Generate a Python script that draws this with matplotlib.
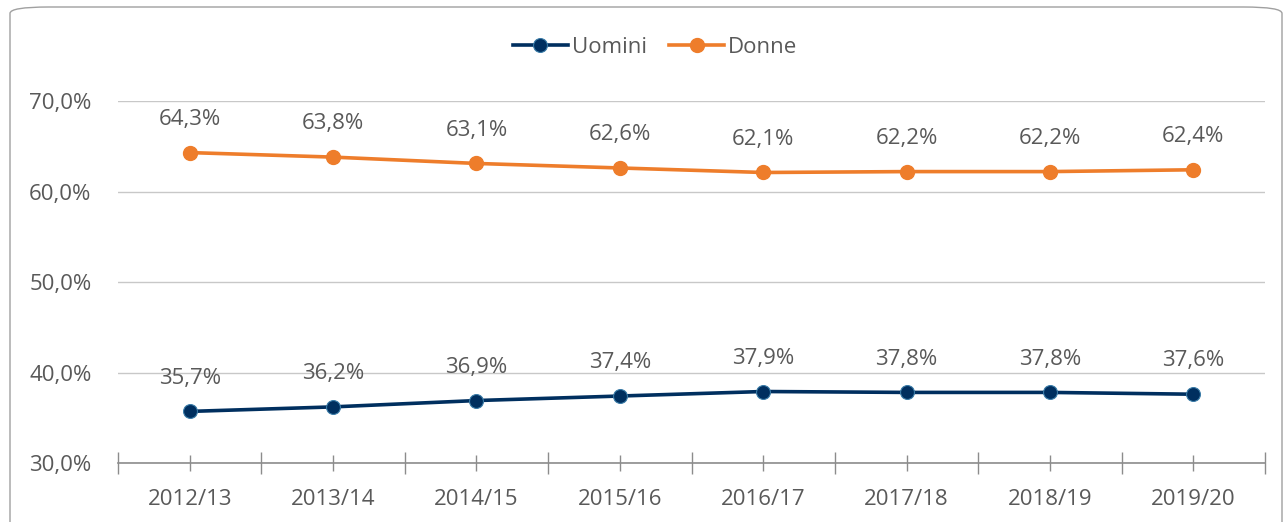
import numpy as np
import matplotlib.pyplot as plt
from matplotlib.patches import FancyBboxPatch

plt.rcParams['font.family'] = ['Open Sans', 'DejaVu Sans']

# Data
years = ['2012/13', '2013/14', '2014/15', '2015/16', '2016/17', '2017/18', '2018/19', '2019/20']
uomini = [35.7, 36.2, 36.9, 37.4, 37.9, 37.8, 37.8, 37.6]
donne = [64.3, 63.8, 63.1, 62.6, 62.1, 62.2, 62.2, 62.4]

grey = '#595959'
navy = '#002F5F'
orange = '#EE7D2B'

fig = plt.figure(figsize=(12.84, 5.22), dpi=100)

# rounded frame around chart
frame = FancyBboxPatch((10 / 1284, -20 / 522), 1272 / 1284, 535 / 522,
                       boxstyle='round,pad=0,rounding_size=0.03',
                       transform=fig.transFigure, facecolor='none',
                       edgecolor='#A0A0A0', linewidth=1.0, clip_on=False,
                       mutation_aspect=522 / 1284, zorder=-1)
fig.patches.append(frame)

ax = fig.add_axes([118 / 1284, 59 / 522, 1147 / 1284, 362 / 522])
ax.set_facecolor('none')

x = np.arange(len(years))
ax.plot(x, uomini, color=navy, lw=2.6, marker='o', ms=10,
        markerfacecolor=navy, markeredgecolor='#3A7CA8', markeredgewidth=0.8,
        label='Uomini', zorder=3)
ax.plot(x, donne, color=orange, lw=2.6, marker='o', ms=10,
        markerfacecolor=orange, markeredgecolor=orange,
        label='Donne', zorder=3)

for xi, v in zip(x, uomini):
    ax.annotate(f'{v:.1f}%'.replace('.', ','), (xi, v), xytext=(0, 24),
                textcoords='offset points', ha='center', va='center',
                fontsize=16, color=grey)
for xi, v in zip(x, donne):
    ax.annotate(f'{v:.1f}%'.replace('.', ','), (xi, v), xytext=(0, 24),
                textcoords='offset points', ha='center', va='center',
                fontsize=16, color=grey)

ax.set_xlim(-0.5, len(years) - 0.5)
ax.set_ylim(30, 70)
ax.set_yticks([30, 40, 50, 60, 70])
ax.set_yticklabels([f'{t:.1f}%'.replace('.', ',') for t in [30, 40, 50, 60, 70]])
ax.yaxis.grid(True, color='#C8C8C8', lw=1.0)
ax.set_axisbelow(True)

for s in ['top', 'right', 'left']:
    ax.spines[s].set_visible(False)
ax.spines['bottom'].set_color('#8C8C8C')
ax.spines['bottom'].set_linewidth(1.2)

ax.set_xticks(x)
ax.set_xticklabels(years)
ax.set_xticks(np.arange(-0.5, len(years)), minor=True)
ax.tick_params(axis='x', which='major', direction='inout', length=11,
               color='#8C8C8C', width=1.0, labelsize=16, labelcolor=grey, pad=13)
ax.tick_params(axis='x', which='minor', direction='inout', length=16,
               color='#8C8C8C', width=1.0)
ax.tick_params(axis='y', length=0, labelsize=16, labelcolor=grey, pad=19)

leg = ax.legend(loc='center', bbox_to_anchor=(0.468, 1.149), ncol=2, frameon=False,
                fontsize=16, handlelength=2.5, handletextpad=0.15, columnspacing=1.0)
for t in leg.get_texts():
    t.set_color(grey)

fig.savefig('out.png', dpi=100)
